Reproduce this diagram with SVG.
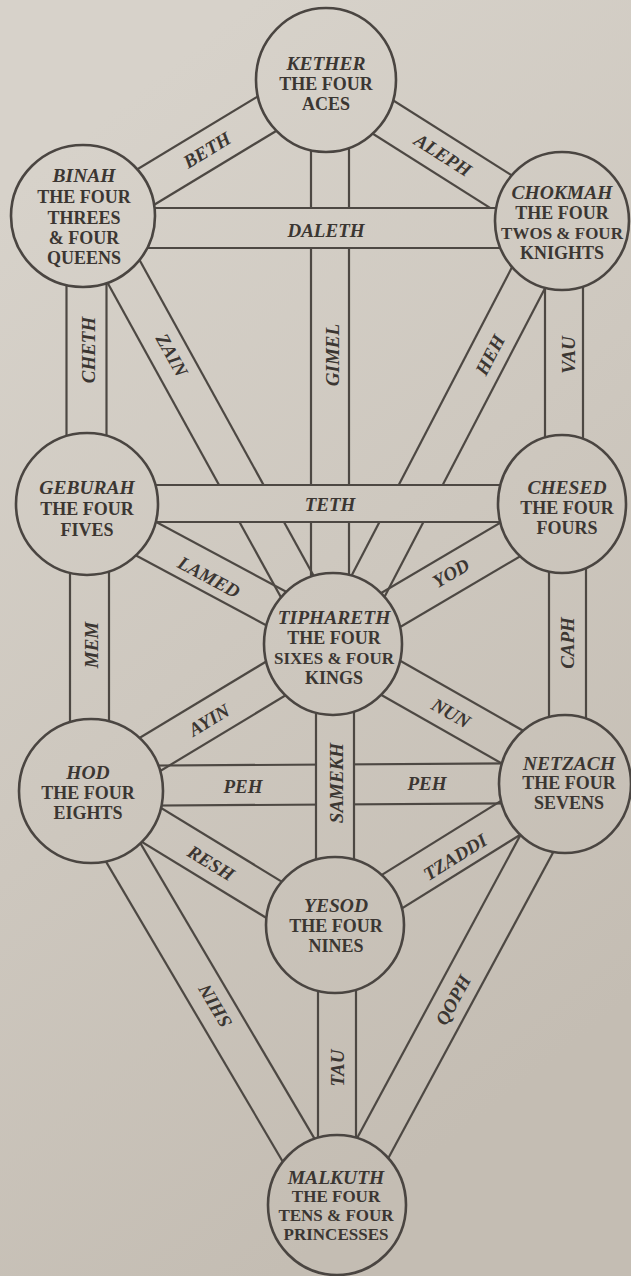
<svg xmlns="http://www.w3.org/2000/svg" width="631" height="1276" viewBox="0 0 631 1276">
<defs>
<linearGradient id="paper" gradientUnits="userSpaceOnUse" x1="0" y1="200" x2="631" y2="1000">
<stop offset="0" stop-color="#d7d2ca"/>
<stop offset="1" stop-color="#c4bdb3"/>
</linearGradient>
<style>
.bl line{stroke:#4d4843;stroke-width:2.2;fill:none}
.cover{fill:url(#paper)}
.node ellipse{fill:url(#paper);stroke:#4a4541;stroke-width:2.6}
text{font-family:"Liberation Serif","Times New Roman",serif;font-weight:bold;fill:#3b3632;text-anchor:middle}
.nm{font-style:italic;font-size:19.5px}
.tx{font-size:18px}
.sm{font-size:17px}
.lb{font-style:italic;font-size:19px}
</style>
</defs>
<rect x="0" y="0" width="631" height="1276" fill="url(#paper)"/>

<g id="connectors">
<g id="path-aleph" class="bl" transform="translate(326 81) rotate(32.31)"><line x1="0" y1="-19.5" x2="276.9" y2="-19.5"/><line x1="0" y1="19.5" x2="276.9" y2="19.5"/></g>
<g id="path-beth" class="bl" transform="translate(83 225) rotate(-31.17)"><line x1="0" y1="-19.5" x2="284" y2="-19.5"/><line x1="0" y1="19.5" x2="284" y2="19.5"/></g>
<g id="path-gimel" class="bl" transform="translate(330 80) rotate(90)"><line x1="0" y1="-19" x2="564" y2="-19"/><line x1="0" y1="19" x2="564" y2="19"/></g>
<g id="path-heh" class="bl" transform="translate(558 221) rotate(117.48)"><line x1="0" y1="-19.5" x2="476.8" y2="-19.5"/><line x1="0" y1="19.5" x2="476.8" y2="19.5"/></g>
<g id="path-vau" class="bl" transform="translate(564 221) rotate(90)"><line x1="0" y1="-19" x2="283" y2="-19"/><line x1="0" y1="19" x2="283" y2="19"/></g>
<g id="path-zain" class="bl" transform="translate(93 216) rotate(61.13)"><line x1="0" y1="-19.5" x2="488.8" y2="-19.5"/><line x1="0" y1="19.5" x2="488.8" y2="19.5"/></g>
<g id="path-cheth" class="bl" transform="translate(86.5 216) rotate(90)"><line x1="0" y1="-20" x2="288" y2="-20"/><line x1="0" y1="20" x2="288" y2="20"/></g>
<g id="path-yod" class="bl" transform="translate(562 509) rotate(149.48)"><line x1="0" y1="-19.5" x2="265.8" y2="-19.5"/><line x1="0" y1="19.5" x2="265.8" y2="19.5"/></g>
<g id="path-caph" class="bl" transform="translate(567.5 504) rotate(90)"><line x1="0" y1="-18.5" x2="280" y2="-18.5"/><line x1="0" y1="18.5" x2="280" y2="18.5"/></g>
<g id="path-lamed" class="bl" transform="translate(87 507) rotate(28.22)"><line x1="0" y1="-19.5" x2="279.2" y2="-19.5"/><line x1="0" y1="19.5" x2="279.2" y2="19.5"/></g>
<g id="path-mem" class="bl" transform="translate(89.5 504) rotate(90)"><line x1="0" y1="-19.5" x2="287" y2="-19.5"/><line x1="0" y1="19.5" x2="287" y2="19.5"/></g>
<g id="path-nun" class="bl" transform="translate(333 645) rotate(29.64)"><line x1="0" y1="-19.5" x2="266.9" y2="-19.5"/><line x1="0" y1="19.5" x2="266.9" y2="19.5"/></g>
<g id="path-ayin" class="bl" transform="translate(91 790) rotate(-31.11)"><line x1="0" y1="-19.5" x2="282.6" y2="-19.5"/><line x1="0" y1="19.5" x2="282.6" y2="19.5"/></g>
<g id="path-peh" class="bl" transform="translate(91 786) rotate(-0.36)"><line x1="0" y1="-20" x2="474" y2="-20"/><line x1="0" y1="20" x2="474" y2="20"/></g>
<g id="path-tzaddi" class="bl" transform="translate(335 927) rotate(-31.87)"><line x1="0" y1="-19.5" x2="270.8" y2="-19.5"/><line x1="0" y1="19.5" x2="270.8" y2="19.5"/></g>
<g id="path-qoph" class="bl" transform="translate(569 784) rotate(118.33)"><line x1="0" y1="-18.5" x2="478.3" y2="-18.5"/><line x1="0" y1="18.5" x2="478.3" y2="18.5"/></g>
<g id="path-resh" class="bl" transform="translate(91 788) rotate(31.41)"><line x1="0" y1="-19.5" x2="285.9" y2="-19.5"/><line x1="0" y1="19.5" x2="285.9" y2="19.5"/></g>
<g id="path-shin" class="bl" transform="translate(87 791) rotate(59.49)"><line x1="0" y1="-19.5" x2="480.6" y2="-19.5"/><line x1="0" y1="19.5" x2="480.6" y2="19.5"/></g>
<g id="path-tau" class="bl" transform="translate(337 925) rotate(90)"><line x1="0" y1="-19" x2="280" y2="-19"/><line x1="0" y1="19" x2="280" y2="19"/></g>
<g id="path-daleth"><rect class="cover" x="83" y="209" width="479" height="38"/><g class="bl" transform="translate(83 228)"><line x1="0" y1="-20" x2="479" y2="-20"/><line x1="0" y1="20" x2="479" y2="20"/></g></g>
<g id="path-teth"><rect class="cover" x="87" y="485" width="475" height="37"/><g class="bl" transform="translate(87 503.5)"><line x1="0" y1="-18.5" x2="475" y2="-18.5"/><line x1="0" y1="18.5" x2="475" y2="18.5"/></g></g>
<g id="path-samekh"><rect class="cover" x="317" y="644" width="36" height="281"/><g class="bl" transform="translate(335 644) rotate(90)"><line x1="0" y1="-19" x2="281" y2="-19"/><line x1="0" y1="19" x2="281" y2="19"/></g></g>

<g id="path-labels" class="lb">
<text transform="translate(443 155) rotate(32.31)" y="6.5">ALEPH</text>
<text transform="translate(207 150) rotate(-31.17)" y="6.5">BETH</text>
<text transform="translate(332 355) rotate(-90)" y="6.5">GIMEL</text>
<text x="326" y="236.5">DALETH</text>
<text transform="translate(490 355) rotate(-62.52)" y="6.5">HEH</text>
<text transform="translate(568 355) rotate(-90)" y="6.5">VAU</text>
<text transform="translate(172 355) rotate(61.13)" y="6.5">ZAIN</text>
<text transform="translate(88 350) rotate(-90)" y="6.5">CHETH</text>
<text x="330" y="511">TETH</text>
<text transform="translate(451 573) rotate(-30.52)" y="6.5">YOD</text>
<text transform="translate(567 643) rotate(-90)" y="6.5">CAPH</text>
<text transform="translate(209 577) rotate(28.22)" y="6.5">LAMED</text>
<text transform="translate(91 645) rotate(-90)" y="6.5">MEM</text>
<text transform="translate(451 713) rotate(29.64)" y="6.5">NUN</text>
<text transform="translate(336 783) rotate(-90)" y="6.5">SAMEKH</text>
<text transform="translate(209 720) rotate(-31.11)" y="6.5">AYIN</text>
<text x="243" y="793">PEH</text>
<text x="427" y="789.5">PEH</text>
<text transform="translate(455 857) rotate(-31.87)" y="6.5">TZADDI</text>
<text transform="translate(453 1000) rotate(-61.67)" y="6.5">QOPH</text>
<text transform="translate(211 863) rotate(31.41)" y="6.5">RESH</text>
<text transform="translate(215 1006) rotate(-120.51)" y="6.5">SHIN</text>
<text transform="translate(337 1068) rotate(-90)" y="6.5">TAU</text>
</g>
</g>

<g id="node-kether" class="node"><ellipse cx="326" cy="80" rx="70" ry="72"/>
<text class="nm" x="326" y="69.5">KETHER</text><text class="tx" x="326" y="89.5">THE FOUR</text><text class="tx" x="326" y="109.5">ACES</text></g>
<g id="node-binah" class="node"><ellipse cx="83" cy="216" rx="72" ry="71"/>
<text class="nm" x="84" y="182">BINAH</text><text class="tx" x="84" y="203">THE FOUR</text><text class="tx" x="84" y="224">THREES</text><text class="tx" x="84" y="244">&amp; FOUR</text><text class="tx" x="84" y="264">QUEENS</text></g>
<g id="node-chokmah" class="node"><ellipse cx="562" cy="221" rx="67" ry="69"/>
<text class="nm" x="562" y="199">CHOKMAH</text><text class="tx" x="562" y="219">THE FOUR</text><text class="sm" x="562" y="239">TWOS &amp; FOUR</text><text class="tx" x="562" y="259">KNIGHTS</text></g>
<g id="node-geburah" class="node"><ellipse cx="87" cy="504" rx="71" ry="71"/>
<text class="nm" x="87" y="494">GEBURAH</text><text class="tx" x="87" y="515">THE FOUR</text><text class="tx" x="87" y="536">FIVES</text></g>
<g id="node-chesed" class="node"><ellipse cx="562" cy="504" rx="64" ry="69"/>
<text class="nm" x="567" y="494">CHESED</text><text class="tx" x="567" y="514">THE FOUR</text><text class="tx" x="567" y="534">FOURS</text></g>
<g id="node-tiphareth" class="node"><ellipse cx="333" cy="644" rx="69" ry="71"/>
<text class="nm" x="334" y="624">TIPHARETH</text><text class="tx" x="334" y="644">THE FOUR</text><text class="sm" x="334" y="664">SIXES &amp; FOUR</text><text class="tx" x="334" y="684">KINGS</text></g>
<g id="node-hod" class="node"><ellipse cx="91" cy="791" rx="72" ry="72"/>
<text class="nm" x="88" y="779">HOD</text><text class="tx" x="88" y="799">THE FOUR</text><text class="tx" x="88" y="819">EIGHTS</text></g>
<g id="node-netzach" class="node"><ellipse cx="565" cy="784" rx="66" ry="69"/>
<text class="nm" x="569" y="770">NETZACH</text><text class="tx" x="569" y="789">THE FOUR</text><text class="tx" x="569" y="809">SEVENS</text></g>
<g id="node-yesod" class="node"><ellipse cx="335" cy="925" rx="69" ry="68"/>
<text class="nm" x="336" y="912">YESOD</text><text class="tx" x="336" y="932">THE FOUR</text><text class="tx" x="336" y="952">NINES</text></g>
<g id="node-malkuth" class="node"><ellipse cx="337" cy="1205" rx="69" ry="70"/>
<text class="nm" x="336" y="1184">MALKUTH</text><text class="sm" x="336" y="1202">THE FOUR</text><text class="sm" x="336" y="1221">TENS &amp; FOUR</text><text class="sm" x="336" y="1240">PRINCESSES</text></g>
</svg>
